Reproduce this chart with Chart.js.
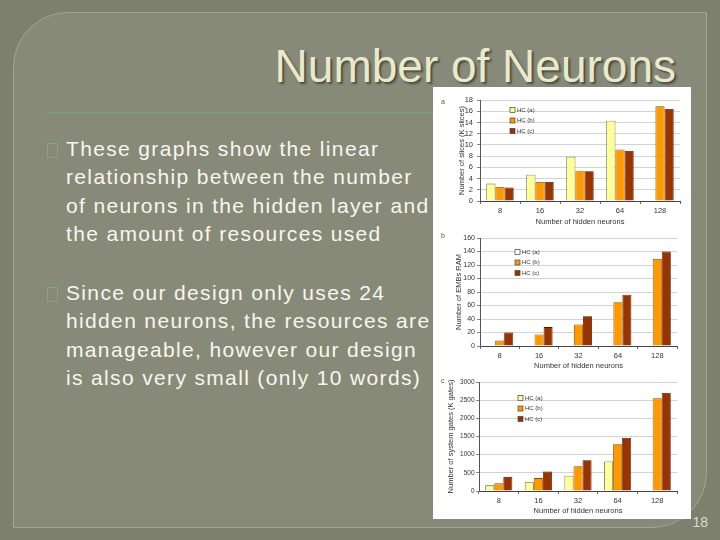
<!DOCTYPE html>
<html><head><meta charset="utf-8">
<script src="https://cdn.jsdelivr.net/npm/chart.js@4"></script>
<style>
html,body{margin:0;padding:0;}
body{width:720px;height:540px;background:#7e806f;position:relative;overflow:hidden;font-family:"Liberation Sans",Arial,sans-serif;}
#panel{position:absolute;left:13px;top:12px;width:692px;height:514px;background:#878a79;border:1px solid #a3a592;border-radius:55px 0 55px 0;}
#title{position:absolute;right:44px;top:43px;font-size:46px;line-height:46px;color:#e9e9cb;text-shadow:2px 2px 2px #4b4d40;white-space:nowrap;}
#rule{position:absolute;left:47px;top:112px;width:390px;height:2px;background:#82967f;}
.bul{position:absolute;left:47px;width:9px;height:13px;border:1px solid #8ea08a;}
.txt{position:absolute;left:66px;font-size:21px;line-height:28.4px;color:#f7f7ee;letter-spacing:1.35px;white-space:nowrap;}
#pg{position:absolute;right:12px;top:515px;font-size:14px;line-height:14px;color:#dcdcc4;}
#img{position:absolute;left:433px;top:87px;width:258px;height:432px;background:#fff;}
#img canvas{position:absolute;left:0;}
.lab{position:absolute;left:8px;font-size:7px;color:#555;}
</style>
</head><body>
<div id="panel"></div>
<div id="title">Number of Neurons</div>
<div id="rule"></div>
<div class="bul" style="top:143px"></div>
<div class="txt" style="top:135px">These graphs show the linear<br>relationship between the number<br>of neurons in the hidden layer and<br>the amount of resources used</div>
<div class="bul" style="top:287px"></div>
<div class="txt" style="top:279px">Since our design only uses 24<br>hidden neurons, the resources are<br>manageable, however our design<br>is also very small (only 10 words)</div>
<div id="pg">18</div>
<div id="img">
  <canvas id="ca" width="258" height="140" style="top:1px"></canvas>
  <canvas id="cb" width="258" height="142" style="top:143px"></canvas>
  <canvas id="cc" width="258" height="145" style="top:287px"></canvas>
  <div class="lab" style="top:11px">a</div>
  <div class="lab" style="top:145px">b</div>
  <div class="lab" style="top:290px">c</div>
</div>
<script>
const categories = ['8','16','32','64','128'];
const seriesNames = ['HC (a)','HC (b)','HC (c)'];
const xTitle = 'Number of hidden neurons';

const slicesTitle = 'Number of slices (K slices)';
const slicesA = [3.1, 4.7, 7.9, 14.3, null];
const slicesB = [2.5, 3.4, 5.4, 9.2, 16.9];
const slicesC = [2.4, 3.4, 5.3, 8.9, 16.4];

const embTitle = 'Number of EMBs RAM';
const embA = [null, null, null, null, null];
const embB = [8, 17, 32, 65, 129];
const embC = [20, 28, 44, 76, 140];

const gatesTitle = 'Number of system gates (K gates)';
const gatesA = [155, 240, 420, 815, null];
const gatesB = [210, 355, 680, 1285, 2550];
const gatesC = [390, 540, 845, 1460, 2700];

Chart.defaults.font.family = '"Liberation Sans", Arial, sans-serif';
Chart.defaults.color = '#333';

const fills = ['#ffff99', '#ff9900', '#993300'];
const borders = ['#55552a', '#8a4d00', '#4d1800'];

const insideLegend = {
  id: 'insideLegend',
  afterDraw(chart, args, opts) {
    const ctx = chart.ctx;
    ctx.save();
    ctx.font = '6px "Liberation Sans", Arial, sans-serif';
    ctx.textBaseline = 'middle';
    chart.data.datasets.forEach((ds, i) => {
      const x = opts.x, y = opts.y + i * opts.gap;
      ctx.fillStyle = ds.label === 'HC (a)' && opts.whiteA ? '#ffffff' : ds.backgroundColor;
      ctx.fillRect(x, y - 2.5, 5, 5);
      ctx.strokeStyle = '#444';
      ctx.lineWidth = 0.7;
      ctx.strokeRect(x, y - 2.5, 5, 5);
      ctx.fillStyle = '#333';
      ctx.fillText(ds.label, x + 7, y);
    });
    ctx.restore();
  }
};

function makeChart(id, series, yMax, yStep, yTitle, pad, yWidth, xHeight, tickPad, tickSize, legend) {
  return new Chart(document.getElementById(id), {
    type: 'bar',
    data: {
      labels: categories,
      datasets: series.map((s, i) => ({
        label: seriesNames[i], data: s,
        backgroundColor: fills[i], borderColor: borders[i], borderWidth: 0.8,
        categoryPercentage: 0.685, barPercentage: 1
      }))
    },
    options: {
      responsive: false, animation: false,
      layout: { padding: pad },
      plugins: { legend: { display: false }, tooltip: { enabled: false }, insideLegend: legend },
      scales: {
        x: {
          grid: { display: true, drawOnChartArea: false, tickLength: 3, tickColor: '#666' },
          border: { color: '#444', width: 1 },
          ticks: { font: { size: 7.5 }, padding: 2, color: '#333', maxRotation: 0 },
          title: { display: true, text: xTitle, font: { size: 7.5 }, padding: 0, color: '#333' },
          afterFit: s => { s.height = xHeight; }
        },
        y: {
          min: 0, max: yMax,
          grid: { color: '#c8c8c8', lineWidth: 0.8, tickLength: 3, tickColor: '#666' },
          border: { color: '#555', width: 1 },
          ticks: { stepSize: yStep, autoSkip: false, font: { size: tickSize }, padding: tickPad, color: '#333',
                   callback: v => String(v) },
          title: { display: true, text: yTitle, font: { size: 7.5 }, padding: 0, color: '#333' },
          afterFit: s => { s.width = yWidth; }
        }
      }
    },
    plugins: [insideLegend]
  });
}

makeChart('ca', [slicesA, slicesB, slicesC], 18, 2, slicesTitle,
  { left: 24, top: 12, right: 11, bottom: 2 }, 23, 25, 4, 7.5, { x: 77, y: 22, gap: 10.5 });
makeChart('cb', [embA, embB, embC], 160, 20, embTitle,
  { left: 21, top: 8, right: 14, bottom: 2 }, 26, 24, 2, 7, { x: 82, y: 22, gap: 10.5, whiteA: true });
makeChart('cc', [gatesA, gatesB, gatesC], 3000, 500, gatesTitle,
  { left: 13, top: 8, right: 14, bottom: 4 }, 33, 24, 1.5, 6.5, { x: 85, y: 24, gap: 10.5 });
</script>
</body></html>
